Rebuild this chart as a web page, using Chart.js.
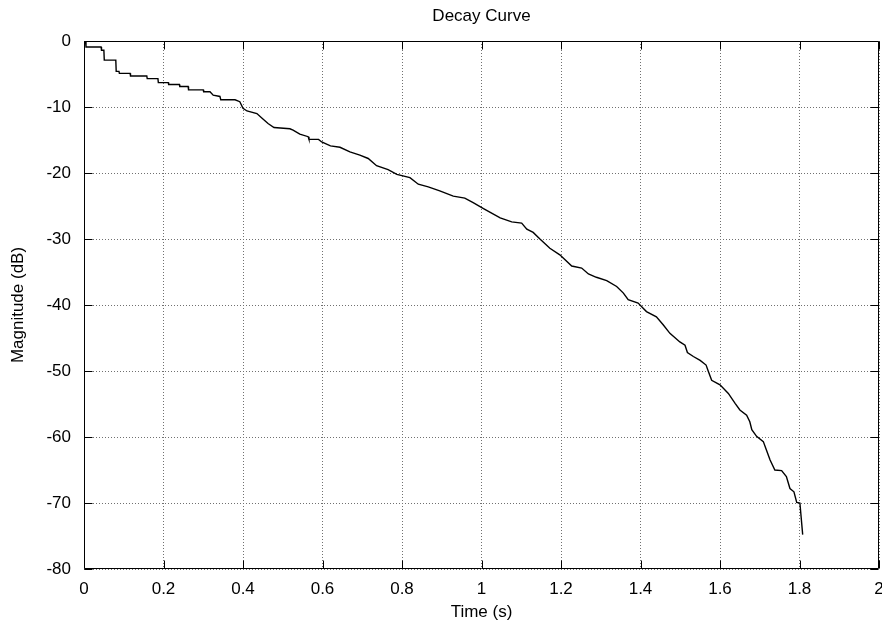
<!DOCTYPE html>
<html>
<head>
<meta charset="utf-8">
<script src="https://cdn.jsdelivr.net/npm/chart.js@4/dist/chart.umd.min.js"></script>
<style>
html,body{margin:0;padding:0;background:#fff;}
#wrap{width:882px;height:625px;position:relative;}
</style>
</head>
<body>
<div id="wrap"><canvas id="c" width="882" height="625"></canvas></div>
<script>
const chartTitle = "Decay Curve";
const xAxisTitle = "Time (s)";
const yAxisTitle = "Magnitude (dB)";
const xTicks = [0, 0.2, 0.4, 0.6, 0.8, 1, 1.2, 1.4, 1.6, 1.8, 2];
const yTicks = [0, -10, -20, -30, -40, -50, -60, -70, -80];

const times = [
  0.004, 0.005, 0.043, 0.044, 0.050, 0.051, 0.080, 0.081, 0.088, 0.089,
  0.116, 0.117, 0.158, 0.159, 0.186, 0.187, 0.212, 0.213, 0.240, 0.241,
  0.262, 0.263, 0.300, 0.301, 0.317, 0.325, 0.342, 0.344, 0.380, 0.392,
  0.400, 0.410, 0.435, 0.448, 0.463, 0.478, 0.518, 0.526, 0.543, 0.564,
  0.566, 0.590, 0.598, 0.620, 0.644, 0.669, 0.694, 0.715, 0.736, 0.765,
  0.787, 0.820, 0.841, 0.866, 0.895, 0.929, 0.958, 0.979, 1.005, 1.047,
  1.076, 1.101, 1.114, 1.130, 1.147, 1.172, 1.197, 1.227, 1.252, 1.269,
  1.289, 1.315, 1.340, 1.357, 1.369, 1.394, 1.415, 1.440, 1.457, 1.474,
  1.499, 1.512, 1.518, 1.533, 1.550, 1.565, 1.571, 1.579, 1.600, 1.621,
  1.638, 1.650, 1.667, 1.675, 1.680, 1.692, 1.709, 1.717, 1.726, 1.738,
  1.755, 1.767, 1.776, 1.786, 1.793, 1.801, 1.808
];
const magnitudes = [
  -0.1, -0.9, -0.9, -1.4, -1.4, -2.9, -2.9, -4.6, -4.6, -4.9,
  -4.9, -5.3, -5.3, -5.7, -5.7, -6.3, -6.3, -6.6, -6.6, -6.9,
  -6.9, -7.4, -7.4, -7.7, -7.7, -8.2, -8.4, -8.9, -8.9, -9.2,
  -10.2, -10.6, -11.0, -11.7, -12.5, -13.1, -13.3, -13.5, -14.1, -14.5,
  -14.9, -14.9, -15.3, -15.9, -16.1, -16.8, -17.3, -17.8, -18.9, -19.5,
  -20.2, -20.7, -21.7, -22.1, -22.7, -23.5, -23.8, -24.5, -25.4, -26.8,
  -27.4, -27.6, -28.5, -29.0, -30.0, -31.4, -32.4, -34.1, -34.4, -35.3,
  -35.8, -36.3, -37.2, -38.2, -39.2, -39.7, -41.0, -41.8, -43.0, -44.3,
  -45.6, -46.1, -47.2, -47.8, -48.4, -49.1, -50.1, -51.4, -52.1, -53.4,
  -54.9, -55.9, -56.7, -57.7, -58.9, -59.9, -60.7, -62.0, -63.5, -65.0,
  -65.1, -66.0, -67.8, -68.3, -69.9, -70.0, -74.8
];

const FONT = "'Liberation Sans', Arial, Helvetica, sans-serif";
Chart.defaults.font.family = FONT;
Chart.defaults.font.size = 17;
Chart.defaults.color = '#000';

const framePlugin = {
  id: 'frame',
  afterDatasetsDraw(chart) {
    const {ctx, chartArea: a, scales} = chart;
    ctx.save();
    ctx.strokeStyle = '#000';
    ctx.lineWidth = 1;
    ctx.beginPath();
    const L = Math.round(a.left) + 0.5, R = Math.round(a.right) - 0.5;
    const T = Math.round(a.top) + 0.5, B = Math.round(a.bottom) - 0.5;
    ctx.rect(L, T, R - L, B - T);
    const tl = 8;
    xTicks.forEach(v => {
      const px = Math.round(scales.x.getPixelForValue(v)) + 0.5;
      ctx.moveTo(px, B); ctx.lineTo(px, B - tl);
      ctx.moveTo(px, T); ctx.lineTo(px, T + tl);
    });
    yTicks.forEach(v => {
      const py = Math.round(scales.y.getPixelForValue(v)) + 0.5;
      ctx.moveTo(L, py); ctx.lineTo(L + tl, py);
      ctx.moveTo(R, py); ctx.lineTo(R - tl, py);
    });
    ctx.stroke();
    ctx.restore();
  }
};

new Chart(document.getElementById('c'), {
  type: 'line',
  data: {
    datasets: [{
      data: times.map((t, i) => ({x: t, y: magnitudes[i]})),
      borderColor: '#000',
      borderWidth: 1.4,
      pointRadius: 0,
      tension: 0,
      fill: false
    }]
  },
  options: {
    responsive: false,
    animation: false,
    events: [],
    layout: {padding: {left: 0, right: 3, top: 0, bottom: 0}},
    plugins: {
      legend: {display: false},
      tooltip: {enabled: false},
      title: {
        display: true,
        fullSize: false,
        align: 'center',
        text: chartTitle,
        font: {size: 17, weight: 'normal'},
        color: '#000',
        padding: {top: 6, bottom: 14.6}
      }
    },
    scales: {
      x: {
        type: 'linear',
        min: 0, max: 2,
        afterBuildTicks(s) { s.ticks = xTicks.map(v => ({value: v})); },
        afterFit(s) { s.height = 56; s.paddingRight = 0; s.paddingLeft = 0; },
        ticks: {padding: 10, maxRotation: 0, autoSkip: false, callback: v => String(v)},
        grid: {color: '#707070', lineWidth: 1, drawTicks: false},
        border: {display: false, dash: [1, 2]},
        title: {display: true, text: xAxisTitle, font: {size: 17}, padding: {top: 0, bottom: 2}}
      },
      y: {
        type: 'linear',
        min: -80, max: 0,
        afterBuildTicks(s) { s.ticks = yTicks.map(v => ({value: v})); },
        afterFit(s) { s.width = 84; },
        ticks: {padding: 13, autoSkip: false, callback: v => String(v)},
        grid: {color: '#707070', lineWidth: 1, drawTicks: false},
        border: {display: false, dash: [1, 2]},
        title: {display: true, text: yAxisTitle, font: {size: 17}, padding: {top: 8, bottom: 0}}
      }
    }
  },
  plugins: [framePlugin]
});
</script>
</body>
</html>
